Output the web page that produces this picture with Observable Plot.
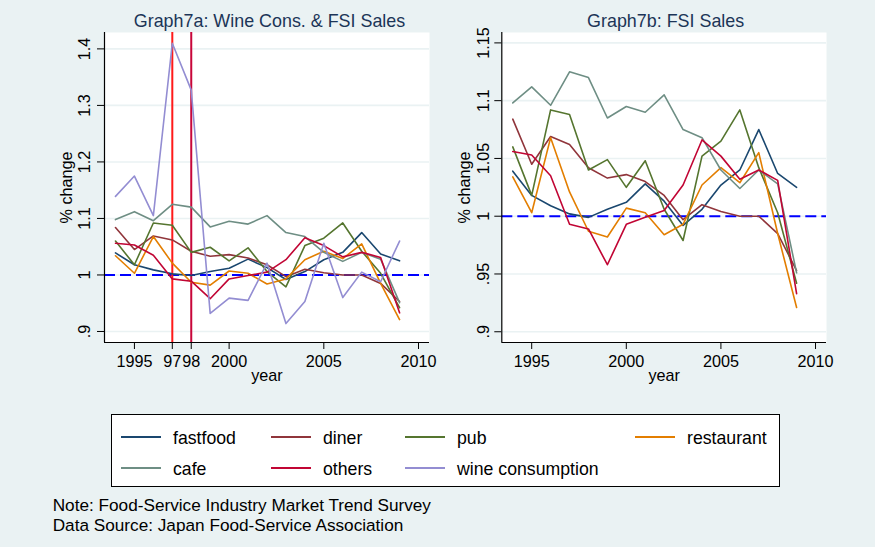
<!DOCTYPE html>
<html>
<head>
<meta charset="utf-8">
<script src="https://cdn.jsdelivr.net/npm/d3@7"></script>
<script src="https://cdn.jsdelivr.net/npm/@observablehq/plot@0.6"></script>
<style>
  html, body { margin: 0; padding: 0; background: #eaf2f3; }
  #chart { position: relative; width: 875px; height: 547px; background: #eaf2f3; overflow: hidden;
           font-family: "Liberation Sans", Arial, Helvetica, sans-serif; }
  .panel { position: absolute; top: 0; }
  #legend { position: absolute; left: 111px; top: 414px; width: 667px; height: 71px;
            border: 1px solid #000; background: #fff; }
  .item { position: absolute; height: 20px; line-height: 20px; font-size: 17.7px; color: #000; white-space: nowrap; }
  .sw { position: absolute; height: 2px; width: 40px; }
  .note { position: absolute; left: 52.7px; font-size: 17.2px; line-height: 19.3px; height: 19.3px; color: #000; white-space: nowrap; }
</style>
</head>
<body>
<div id="chart">
  <div id="p1" class="panel" style="left:0px"></div>
  <div id="p2" class="panel" style="left:430px"></div>
  <div id="legend"></div>
  <div class="note" style="top:496.4px">Note: Food-Service Industry Market Trend Survey</div>
  <div class="note" style="top:515.7px">Data Source: Japan Food-Service Association</div>
</div>
<script>
// ---- data ----
const years = [1994, 1995, 1996, 1997, 1998, 1999, 2000, 2001, 2002, 2003, 2004, 2005, 2006, 2007, 2008, 2009];
const fastfood   = [1.039, 1.018, 1.009, 1.002, 0.999, 1.006, 1.012, 1.028, 1.013, 0.992, 1.006, 1.027, 1.040, 1.075, 1.037, 1.025];
const diner      = [1.084, 1.045, 1.069, 1.062, 1.042, 1.033, 1.036, 1.030, 1.018, 0.997, 1.010, 1.004, 1.000, 1.000, 0.985, 0.953];
const pub        = [1.060, 1.018, 1.092, 1.088, 1.040, 1.049, 1.025, 1.048, 1.006, 0.979, 1.052, 1.065, 1.092, 1.042, 1.003, 0.942];
const restaurant = [1.034, 1.003, 1.068, 1.021, 0.987, 0.982, 1.007, 1.003, 0.984, 0.993, 1.027, 1.042, 1.029, 1.055, 0.985, 0.921];
const cafe       = [1.098, 1.112, 1.096, 1.125, 1.120, 1.085, 1.095, 1.090, 1.105, 1.075, 1.068, 1.040, 1.024, 1.040, 1.028, 0.951];
const others     = [1.056, 1.053, 1.035, 0.993, 0.989, 0.958, 0.993, 0.999, 1.005, 1.027, 1.066, 1.052, 1.032, 1.040, 1.031, 0.933];
const wine       = [1.139, 1.175, 1.105, 1.410, 1.327, 0.932, 0.959, 0.955, 1.021, 0.914, 0.953, 1.056, 0.960, 1.005, 0.988, 1.060];

const seriesNames  = ["fastfood", "diner", "pub", "restaurant", "cafe", "others", "wine consumption"];
const seriesColors = ["#1a476f", "#90353b", "#55752f", "#e37e00", "#6e8e84", "#c10534", "#938dd2"];
const seriesValues = [fastfood, diner, pub, restaurant, cafe, others, wine];

const xTicksA = [1995, 1997, 1998, 2000, 2005, 2010];
const xLabelsA = ["1995", "97", "98", "2000", "2005", "2010"];
const xTicksB = [1995, 2000, 2005, 2010];
const xLabelsB = ["1995", "2000", "2005", "2010"];
const yTicksA = [0.9, 1.0, 1.1, 1.2, 1.3, 1.4];
const yLabelsA = [".9", "1", "1.1", "1.2", "1.3", "1.4"];
const yTicksB = [0.9, 0.95, 1.0, 1.05, 1.1, 1.15];
const yLabelsB = [".9", ".95", "1", "1.05", "1.1", "1.15"];
const crisisYears = [1997, 1998];
const crisisColors = ["#ff1a1a", "#c8063a"];

const font = "'Liberation Sans', Arial, Helvetica, sans-serif";

function rowsFor(names) {
  const rows = [];
  names.forEach(name => {
    const vals = seriesValues[seriesNames.indexOf(name)];
    years.forEach((y, i) => rows.push({year: y, value: vals[i], series: name}));
  });
  return rows;
}

function panel({width, ml, mr, yDomain, yTicks, yLabels, xTicks, xLabels, names, vlines, title, tickDx, titleDx}) {
  const xDomain = [1993.42, 2010.58];
  const marks = [
    Plot.frame({fill: "white", stroke: null}),
    Plot.gridY(yTicks, {stroke: "#eaf2f3", strokeOpacity: 1, strokeWidth: 1.6}),
    Plot.ruleY([1], {stroke: "#0000ff", strokeWidth: 2, strokeDasharray: "11,5"})
  ];
  vlines.forEach((v, i) => marks.push(Plot.ruleX([v], {stroke: crisisColors[i], strokeWidth: 2})));
  marks.push(
    Plot.line(rowsFor(names), {x: "year", y: "value", z: "series", stroke: "series", strokeWidth: 1.6}),
    Plot.ruleX([xDomain[0]], {stroke: "#000", strokeWidth: 1.2}),
    Plot.ruleY([yDomain[0]], {stroke: "#000", strokeWidth: 1.2}),
    Plot.axisY({ticks: yTicks, tickSize: 7, tickFormat: () => "", label: null, stroke: "#000"}),
    Plot.axisX({ticks: xTicks, tickSize: 7, tickFormat: () => "", label: null, stroke: "#000"}),
    Plot.text(yTicks, {y: d => d, text: (d, i) => yLabels[i], frameAnchor: "left", dx: tickDx, rotate: -90,
      lineAnchor: "bottom", textAnchor: "middle", fontSize: 16.2, fill: "#000"}),
    Plot.text(xTicks, {x: d => d, text: (d, i) => xLabels[i], frameAnchor: "bottom", dy: 24.5,
      lineAnchor: "bottom", textAnchor: "middle", fontSize: 16.2, fill: "#000"}),
    Plot.text(["year"], {text: d => d, frameAnchor: "bottom", dy: 38.7, lineAnchor: "bottom", fontSize: 16.2, fill: "#000"}),
    Plot.text(["% change"], {text: d => d, frameAnchor: "left", dx: -32.3, rotate: -90, lineAnchor: "bottom",
      textAnchor: "middle", fontSize: 16.2, fill: "#000"}),
    Plot.text([title], {text: d => d, frameAnchor: "top", dy: -6, dx: titleDx, lineAnchor: "bottom",
      fontSize: 17.9, fill: "#1c3557"})
  );
  return Plot.plot({
    width, height: 400,
    marginLeft: ml, marginRight: mr, marginTop: 32, marginBottom: 58,
    x: {type: "linear", domain: xDomain, label: null},
    y: {type: "linear", domain: yDomain, label: null},
    color: {domain: seriesNames, range: seriesColors},
    style: {fontFamily: font, background: "transparent", overflow: "visible"},
    marks
  });
}

document.getElementById("p1").appendChild(panel({
  width: 440, ml: 104, mr: 11, yDomain: [0.8805, 1.429], yTicks: yTicksA, yLabels: yLabelsA,
  xTicks: xTicksA, xLabels: xLabelsA, names: seriesNames, vlines: crisisYears,
  title: "Graph7a: Wine Cons. & FSI Sales", tickDx: -15, titleDx: 2.5
}));
document.getElementById("p2").appendChild(panel({
  width: 445, ml: 71.3, mr: 49, yDomain: [0.8907, 1.159], yTicks: yTicksB, yLabels: yLabelsB,
  xTicks: xTicksB, xLabels: xLabelsB, names: seriesNames.slice(0, 6), vlines: [],
  title: "Graph7b: FSI Sales", tickDx: -13.3, titleDx: 1.5
}));

// legend
const legend = document.getElementById("legend");
const colX = [9, 159, 293, 523];
const rowY = [21.7, 53.3];
seriesNames.forEach((name, i) => {
  const c = i % 4, r = Math.floor(i / 4);
  const sw = document.createElement("div");
  sw.className = "sw";
  sw.style.left = colX[c] + "px";
  sw.style.top = (rowY[r] - 1) + "px";
  sw.style.background = seriesColors[i];
  legend.appendChild(sw);
  const t = document.createElement("div");
  t.className = "item";
  t.style.left = (colX[c] + 52) + "px";
  t.style.top = (rowY[r] - 9) + "px";
  t.textContent = name;
  legend.appendChild(t);
});
</script>
</body>
</html>
